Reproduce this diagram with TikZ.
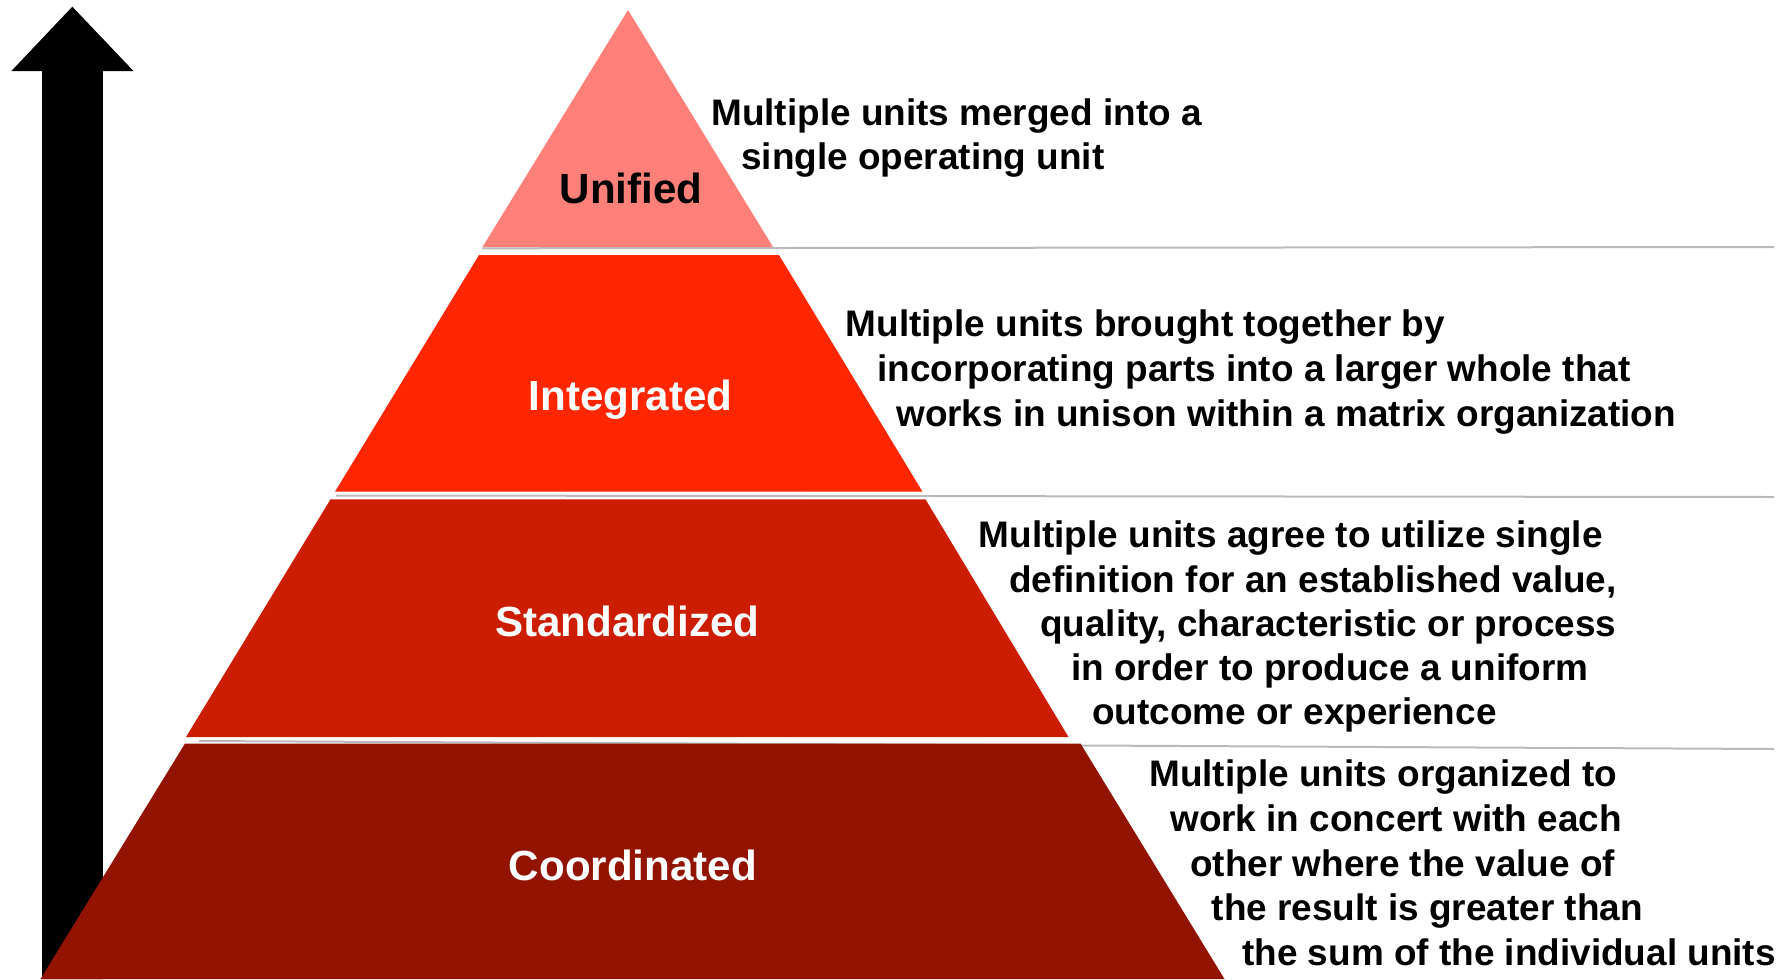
\documentclass[tikz,border=0pt]{standalone}
\usepackage{fontspec}
\setmainfont{Liberation Sans}
\usetikzlibrary{positioning}

\definecolor{unifiedred}{RGB}{255,127,121}
\definecolor{integratedred}{RGB}{255,38,0}
\definecolor{standardred}{RGB}{204,29,0}
\definecolor{coordred}{RGB}{146,19,0}

\tikzset{
  tier/.style={inner sep=0pt,anchor=base,font=\bfseries\fontsize{31.6}{37}\selectfont},
  desc/.style={inner sep=0pt,anchor=base west,font=\bfseries\fontsize{27.7}{33}\selectfont},
  sepline/.style={draw=black!27,line width=1.5pt}
}

\begin{document}
\begin{tikzpicture}[x=0.75pt,y=-0.75pt]
\useasboundingbox (0,0) rectangle (1792,979);

% upward arrow on the left
\fill (72.3,6.7)--(133.5,71)--(102.9,71)--(102.9,979)--(42,979)--(42,71)--(11.4,71)--cycle;

% separators between the levels
\draw[sepline] (482,248.3)--(1774,247);
\draw[sepline] (336,495.5)--(1774,497);
\draw[sepline] (199,741)--(1774,749);

% the four levels of the pyramid
\fill[unifiedred] (628,10)--(773,247)--(482.5,247)--cycle;
\fill[integratedred] (479,255)--(779,255)--(922.5,491.7)--(335,491.7)--cycle;
\fill[standardred] (330.5,499.3)--(925.5,499.3)--(1068.5,737)--(186,737)--cycle;
\fill[coordred] (185,743.5)--(1080.5,743.5)--(1224.5,979)--(40.5,979)--cycle;

\node[tier] (unified) at (631,203.3) {Unified};
\node[tier,white] (integrated) at (630.4,410.7) {Integrated};
\node[tier,white] (standardized) at (627.4,636.5) {Standardized};
\node[tier,white] (coordinated) at (633,880.5) {Coordinated};

% descriptions, one line at a time
\node[desc] (unified-1) at (711,125) {Multiple units merged into a};
\node[desc] (unified-2) at (741,169.5) {single operating unit};

\node[desc] (integrated-1) at (845.5,336.7) {Multiple units brought together by};
\node[desc] (integrated-2) at (877,381.7) {incorporating parts into a larger whole that};
\node[desc] (integrated-3) at (896,426.7) {works in unison within a matrix organization};

\node[desc] (standardized-1) at (978.5,547.5) {Multiple units agree to utilize single};
\node[desc] (standardized-2) at (1009,592) {definition for an established value,};
\node[desc] (standardized-3) at (1040,636) {quality, characteristic or process};
\node[desc] (standardized-4) at (1071,680) {in order to produce a uniform};
\node[desc] (standardized-5) at (1092,724.5) {outcome or experience};

\node[desc] (coordinated-1) at (1149,786.7) {Multiple units organized to};
\node[desc] (coordinated-2) at (1170,831.7) {work in concert with each};
\node[desc] (coordinated-3) at (1190,876.7) {other where the value of};
\node[desc] (coordinated-4) at (1211.5,920) {the result is greater than};
\node[desc] (coordinated-5) at (1242,965) {the sum of the individual units};
\end{tikzpicture}
\end{document}
